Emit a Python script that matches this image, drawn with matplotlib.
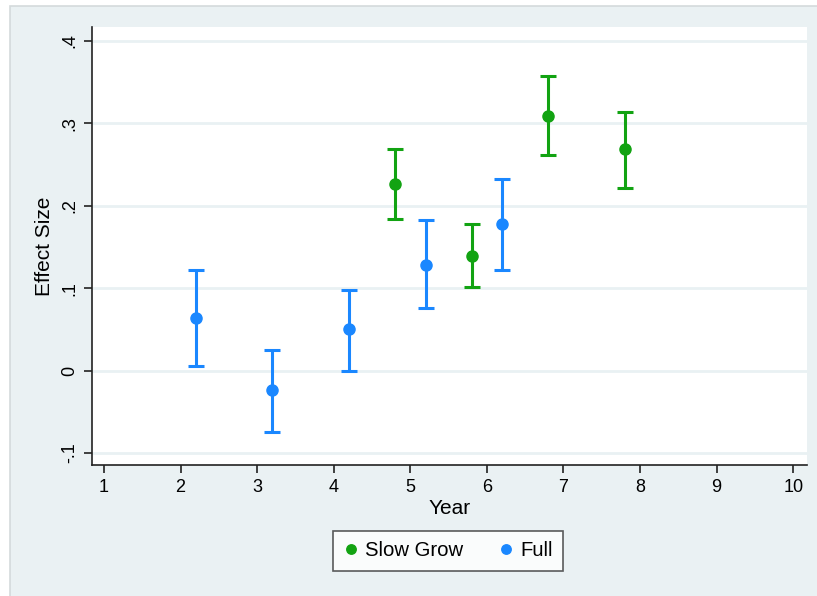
import matplotlib
matplotlib.use("Agg")
import matplotlib.pyplot as plt
from matplotlib.patches import Rectangle

plt.rcParams["font.family"] = ["Liberation Sans", "DejaVu Sans"]

# --- data ---------------------------------------------------------------------
slow_year = [4.8, 5.8, 6.8, 7.8]
slow_eff = [0.227, 0.139, 0.309, 0.269]
slow_lo = [0.184, 0.102, 0.262, 0.222]
slow_hi = [0.269, 0.178, 0.358, 0.314]

full_year = [2.2, 3.2, 4.2, 5.2, 6.2]
full_eff = [0.064, -0.024, 0.051, 0.128, 0.178]
full_lo = [0.006, -0.074, 0.0, 0.076, 0.122]
full_hi = [0.122, 0.025, 0.098, 0.183, 0.233]

yticks = [-0.1, 0, 0.1, 0.2, 0.3, 0.4]
ytick_labels = ["-.1", "0", ".1", ".2", ".3", ".4"]
xticks = list(range(1, 11))

GREEN = "#12a312"
BLUE = "#1a87ff"
BG = "#eaf1f3"
GRID = "#e9f1f3"

fig = plt.figure(figsize=(8.17, 5.96), dpi=100)
W, H = 817, 596
# outer stata-like panel
fig.patches.append(Rectangle((10 / W, -0.05), 1.1, 1.05 - 6 / H, transform=fig.transFigure,
                             facecolor=BG, edgecolor="#d4dadc", lw=1.2, zorder=-10))

ax = fig.add_axes([92 / W, 1 - 465 / H, (807 - 92) / W, (465 - 27) / H])
ax.set_facecolor("white")
ax.set_xlim(0.843, 10.18)
ax.set_ylim(-0.1145, 0.417)

for y in yticks:
    ax.axhline(y, color=GRID, lw=2, zorder=0)


def draw(xs, ys, lo, hi, color, label):
    yerr = [[y - l for y, l in zip(ys, lo)], [h - y for y, h in zip(ys, hi)]]
    ax.errorbar(xs, ys, yerr=yerr, fmt="none", ecolor=color, elinewidth=2.2,
                capsize=6, capthick=2.2, zorder=3)
    ax.plot(xs, ys, "o", color=color, ms=8, zorder=4, label=label)


draw(slow_year, slow_eff, slow_lo, slow_hi, GREEN, "Slow Grow")
draw(full_year, full_eff, full_lo, full_hi, BLUE, "Full")

for s in ["top", "right"]:
    ax.spines[s].set_visible(False)
for s in ["left", "bottom"]:
    ax.spines[s].set_color("#222222")
    ax.spines[s].set_linewidth(1.2)

ax.set_xticks(xticks)
ax.set_xticklabels([str(x) for x in xticks], fontsize=13)
ax.set_yticks(yticks)
ax.set_yticklabels(ytick_labels, fontsize=13, rotation=90, va="center")
ax.tick_params(axis="both", length=6, width=1.2, color="#222222", pad=4)
ax.set_xlabel("Year", fontsize=15, va="center")
ax.set_ylabel("Effect Size", fontsize=15, va="center")
ax.xaxis.set_label_coords(0.5, -(508 - 465) / 438)
ax.yaxis.set_label_coords(-(92 - 44) / 715, 0.5)

leg = fig.legend(loc="center", bbox_to_anchor=(448 / W, 1 - 551 / H), ncol=2,
                 frameon=True, fancybox=False, fontsize=14.6, handletextpad=0.3,
                 columnspacing=1.7, handlelength=0.8, borderpad=0.5,
                 markerscale=0.85)
leg.get_frame().set_edgecolor("#333333")
leg.get_frame().set_linewidth(1.2)

fig.savefig("out.png", dpi=100)
